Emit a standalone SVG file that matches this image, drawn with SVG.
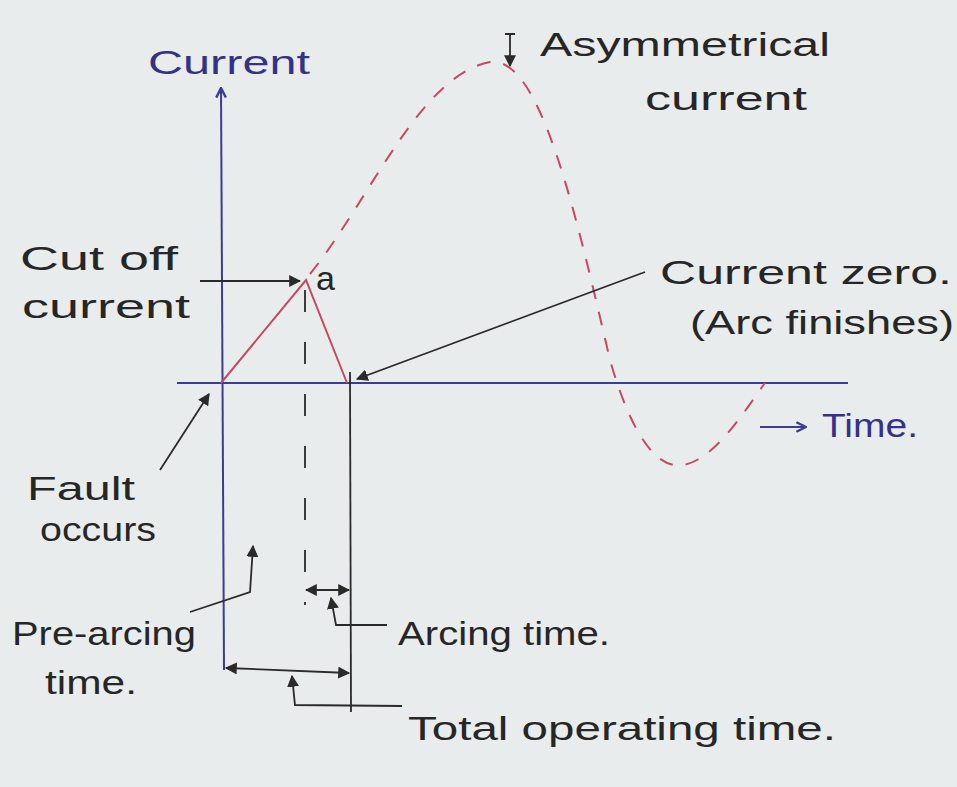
<svg xmlns="http://www.w3.org/2000/svg" width="957" height="787" viewBox="0 0 957 787">
<style>
.bl{stroke:#3b3c96;stroke-width:2;fill:none}
.rd{stroke:#c9485f;stroke-width:2;fill:none}
.bk{stroke:#2a2a2a;stroke-width:1.8;fill:none}
.t{font-family:"Liberation Sans","DejaVu Sans",sans-serif;font-size:34px;fill:#262626}
.tb{fill:#34318a}
</style>
<defs>
<marker id="ahb" viewBox="0 0 10 10" refX="9" refY="5" markerWidth="12" markerHeight="12" orient="auto" markerUnits="userSpaceOnUse">
<path d="M1,1 L9,5 L1,9" fill="none" stroke="#3b3c96" stroke-width="2"/>
</marker>
<marker id="ahs" viewBox="0 0 10 10" refX="9" refY="5" markerWidth="12" markerHeight="12" orient="auto-start-reverse" markerUnits="userSpaceOnUse">
<path d="M0,0 L10,5 L0,10 z" fill="#2a2a2a"/>
</marker>
</defs>
<rect width="957" height="787" fill="#e9eced"/>
<g id="axes">
<line class="bl" x1="224" y1="670" x2="221" y2="88" marker-end="url(#ahb)"/>
<line class="bl" x1="177" y1="383" x2="848" y2="383"/>
<line class="bl" x1="760" y1="427" x2="806" y2="427" marker-end="url(#ahb)"/>
</g>
<g id="curves">
<polyline class="rd" points="221,383 306,280 347,383"/>
<path class="rd" stroke-dasharray="14 13" d="M310,274 C 370,200 420,75 490,62 C 540,55 575,210 610,360 C 630,430 655,470 683,465 C 715,460 745,410 765,383"/>
</g>
<g id="guides">
<line class="bk" x1="305" y1="290" x2="305" y2="605" stroke-dasharray="22 30"/>
<line class="bk" x1="350" y1="372" x2="351" y2="712"/>
</g>
<g id="connectors">
<line class="bk" x1="200" y1="281" x2="300" y2="281" marker-end="url(#ahs)"/>
<line class="bk" x1="645" y1="272" x2="357" y2="379" marker-end="url(#ahs)"/>
<path class="bk" d="M505,34 L515,34 M510,34 L510,66" marker-end="url(#ahs)"/>
<line class="bk" x1="160" y1="470" x2="209" y2="394" marker-end="url(#ahs)"/>
<polyline class="bk" points="190,612 250,592 253,546" marker-end="url(#ahs)"/>
<line class="bk" x1="306" y1="590" x2="349" y2="590" marker-start="url(#ahs)" marker-end="url(#ahs)"/>
<polyline class="bk" points="387,625 336,625 331,598" marker-end="url(#ahs)"/>
<line class="bk" x1="226" y1="668" x2="349" y2="673" marker-start="url(#ahs)" marker-end="url(#ahs)"/>
<polyline class="bk" points="402,706 295,705 292,676" marker-end="url(#ahs)"/>
</g>
<g id="labels">
<text class="t tb" x="148" y="74" font-size="40" textLength="162" lengthAdjust="spacingAndGlyphs">Current</text>
<text class="t" x="540" y="56" textLength="290" lengthAdjust="spacingAndGlyphs">Asymmetrical</text>
<text class="t" x="645" y="110" textLength="162" lengthAdjust="spacingAndGlyphs">current</text>
<text class="t" x="20" y="270" textLength="158" lengthAdjust="spacingAndGlyphs">Cut off</text>
<text class="t" x="22" y="318" textLength="168" lengthAdjust="spacingAndGlyphs">current</text>
<text class="t" x="316" y="290" font-size="26">a</text>
<text class="t" x="660" y="284" textLength="292" lengthAdjust="spacingAndGlyphs">Current zero.</text>
<text class="t" x="690" y="334" textLength="264" lengthAdjust="spacingAndGlyphs">(Arc finishes)</text>
<text class="t tb" x="822" y="437" font-size="28" textLength="96" lengthAdjust="spacingAndGlyphs">Time.</text>
<text class="t" x="27" y="500" textLength="108" lengthAdjust="spacingAndGlyphs">Fault</text>
<text class="t" x="40" y="541" textLength="116" lengthAdjust="spacingAndGlyphs">occurs</text>
<text class="t" x="12" y="645" textLength="184" lengthAdjust="spacingAndGlyphs">Pre-arcing</text>
<text class="t" x="45" y="694" textLength="92" lengthAdjust="spacingAndGlyphs">time.</text>
<text class="t" x="398" y="645" textLength="212" lengthAdjust="spacingAndGlyphs">Arcing time.</text>
<text class="t" x="408" y="740" textLength="428" lengthAdjust="spacingAndGlyphs">Total operating time.</text>
</g>
</svg>
